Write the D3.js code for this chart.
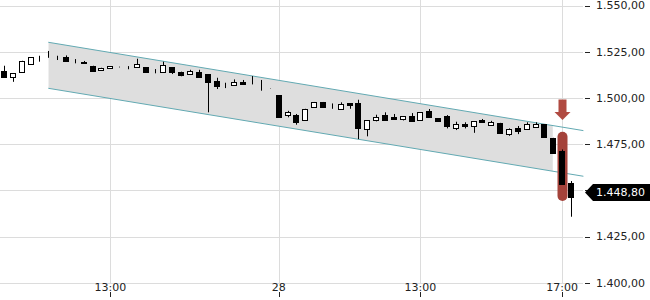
<!DOCTYPE html>
<html><head><meta charset="utf-8">
<script src="https://cdn.jsdelivr.net/npm/d3@7"></script>
<style>html,body{margin:0;padding:0;background:#fff}svg{display:block}</style>
</head><body><svg id="c" width="650" height="300"></svg>
<script>
const times = ["27 10:00","27 10:15","27 10:30","27 10:45","27 11:00","27 11:15","27 11:30","27 11:45","27 12:00","27 12:15","27 12:30","27 12:45","27 13:00","27 13:15","27 13:30","27 13:45","27 14:00","27 14:15","27 14:30","27 14:45","27 15:00","27 15:15","27 15:30","27 15:45","27 16:00","27 16:15","27 16:30","27 16:45","27 17:00","27 17:15","27 17:30",
"28 09:00","28 09:15","28 09:30","28 09:45","28 10:00","28 10:15","28 10:30","28 10:45","28 11:00","28 11:15","28 11:30","28 11:45","28 12:00","28 12:15","28 12:30","28 12:45","28 13:00","28 13:15","28 13:30","28 13:45","28 14:00","28 14:15","28 14:30","28 14:45","28 15:00","28 15:15","28 15:30","28 15:45","28 16:00","28 16:15","28 16:30","28 16:45","28 17:00","28 17:15"];
const open  = [1514.5,1511.1,1513.8,1518.3,1521.4,1521.9,1521.9,1522.3,1520.1,1519.6,1517.4,1514.9,1516.0,1516.7,1516.7,1516.9,1516.5,1514.7,1513.8,1516.5,1514.2,1512.9,1514.2,1512.7,1509.1,1507.3,1506.8,1508.7,1507.5,1507.1,1505.2,
1501.3,1490.6,1490.6,1487.8,1495.0,1497.8,1495.8,1494.1,1497.2,1497.2,1483.3,1487.8,1490.9,1489.6,1488.5,1490.0,1487.8,1492.9,1488.9,1490.3,1483.5,1485.8,1484.8,1488.0,1485.3,1486.5,1480.3,1483.5,1483.0,1484.1,1485.8,1478.4,1471.4,1453.7];
const high  = [1517.4,1513.3,1520.1,1522.0,1522.8,1525.4,1522.8,1523.0,1521.0,1520.0,1517.4,1516.3,1517.2,1516.9,1517.2,1521.2,1516.5,1515.6,1519.6,1516.5,1514.2,1515.2,1515.2,1512.7,1510.9,1508.2,1510.0,1509.7,1511.8,1509.7,1505.3,
1501.5,1493.0,1491.3,1494.1,1497.8,1497.8,1497.0,1497.6,1497.2,1499.0,1487.8,1490.9,1492.2,1491.3,1490.0,1491.8,1492.3,1494.0,1488.9,1490.7,1487.1,1486.8,1487.5,1488.6,1487.6,1486.5,1483.5,1484.8,1486.8,1486.8,1485.8,1478.4,1472.1,1455.0];
const low   = [1511.1,1508.7,1513.8,1518.3,1519.6,1521.7,1520.5,1520.1,1518.7,1518.5,1514.2,1514.9,1516.0,1516.5,1515.5,1516.9,1513.8,1513.3,1513.8,1512.9,1511.7,1512.9,1511.1,1492.2,1504.8,1505.3,1506.8,1507.3,1507.3,1503.9,1505.1,
1489.4,1489.5,1485.5,1487.8,1495.0,1494.9,1494.1,1494.1,1494.1,1477.7,1479.2,1487.3,1488.2,1488.7,1487.8,1487.6,1487.8,1489.8,1487.6,1483.5,1482.6,1483.5,1481.1,1486.8,1485.3,1480.8,1479.5,1480.4,1483.0,1484.1,1479.0,1470.3,1453.2,1435.7];
const close = [1511.1,1513.3,1520.1,1522.0,1521.4,1521.9,1521.9,1520.1,1520.1,1518.7,1514.7,1516.3,1517.2,1516.7,1516.7,1518.3,1514.2,1514.7,1517.6,1514.2,1512.4,1514.4,1511.1,1508.7,1506.4,1507.3,1508.7,1507.3,1507.5,1507.1,1505.2,
1489.6,1492.2,1487.1,1494.1,1497.8,1494.9,1495.8,1496.8,1496.3,1483.7,1487.8,1489.5,1488.2,1488.7,1490.0,1487.6,1492.3,1489.8,1487.6,1484.8,1485.8,1484.8,1487.5,1486.8,1487.1,1480.8,1483.0,1482.0,1485.7,1485.8,1479.0,1470.3,1453.2,1446.5];

const xTickIdx = [12, 31, 47, 63];
const xTickLabels = ["13:00", "28", "13:00", "17:00"];
const yTicks = [1400, 1425, 1450, 1475, 1500, 1525, 1550];

const channelIdx = [5, 65.4];
const channelUpper = [1530.1, 1482.3];
const channelLower = [1505.2, 1457.6];
const channelFillEndIdx = 62;

const highlightIdx = 63;
const highlightRange = [1444.2, 1481.7];
const arrowRange = [1488.0, 1499.2];
const lastPrice = 1448.80;

const W = 650, H = 300;
const plotRight = 583, plotBottom = 283;
const svg = d3.select("#c");
const x = d3.scaleLinear().domain([0, times.length - 1]).range([4, 571]);
const y = d3.scaleLinear().domain([1400, 1550]).range([282.7, 5.5]);
const loc = d3.formatLocale({decimal: ",", thousands: ".", grouping: [3], currency: ["", ""]});
const fmt = loc.format(",.2f");
const FONT = "DejaVu Sans";
const px = v => Math.round(v) + 0.5;

// grid
const g = svg.append("g");
g.selectAll("line.h").data(yTicks).join("line")
  .attr("x1", 0).attr("x2", plotRight).attr("y1", d => px(y(d))).attr("y2", d => px(y(d)))
  .attr("stroke", "#dcdcdc").attr("stroke-width", 1);
g.selectAll("line.v").data(xTickIdx).join("line")
  .attr("x1", d => px(x(d))).attr("x2", d => px(x(d))).attr("y1", 0).attr("y2", plotBottom)
  .attr("stroke", "#dcdcdc").attr("stroke-width", 1);

// channel
svg.append("clipPath").attr("id", "fillclip").append("rect")
  .attr("x", x(channelIdx[0])).attr("y", 0)
  .attr("width", x(channelFillEndIdx) - x(channelIdx[0]) - 0.5).attr("height", H);
const poly = [[channelIdx[0], channelUpper[0]], [channelIdx[1], channelUpper[1]], [channelIdx[1], channelLower[1]], [channelIdx[0], channelLower[0]]];
svg.append("path").attr("clip-path", "url(#fillclip)")
  .attr("d", d3.line().x(d => x(d[0])).y(d => y(d[1]))(poly) + "Z")
  .attr("fill", "#dedede");
[channelUpper, channelLower].forEach(arr => {
  svg.append("line")
    .attr("x1", x(channelIdx[0])).attr("y1", y(arr[0]))
    .attr("x2", x(channelIdx[1])).attr("y2", y(arr[1]))
    .attr("stroke", "#62a9b2").attr("stroke-width", 1);
});

// highlight pill + arrow
const hx = Math.round(x(highlightIdx)) + 0.5;
const red = "#a4423a";
svg.append("rect").attr("x", hx - 5).attr("width", 10)
  .attr("y", y(highlightRange[1])).attr("height", y(highlightRange[0]) - y(highlightRange[1]))
  .attr("rx", 5).attr("ry", 5).attr("fill", red);
const aTop = y(arrowRange[1]), aTip = y(arrowRange[0]), aNeck = aTip - 8;
svg.append("path").attr("d",
  `M${hx-4},${aTop} L${hx+4},${aTop} L${hx+4},${aNeck} L${hx+8},${aNeck} L${hx},${aTip} L${hx-8},${aNeck} L${hx-4},${aNeck} Z`)
  .attr("fill", "#b04a41");

// candles
const data = times.map((t, i) => ({i, o: open[i], h: high[i], l: low[i], c: close[i]}));
const cg = svg.append("g");
cg.selectAll("line.w").data(data).join("line")
  .attr("x1", d => px(x(d.i))).attr("x2", d => px(x(d.i)))
  .attr("y1", d => y(d.h)).attr("y2", d => y(d.l))
  .attr("stroke", "#000").attr("stroke-width", 1);
cg.selectAll("rect.b").data(data).join("rect")
  .attr("x", d => Math.round(x(d.i)) - 2)
  .attr("width", 5)
  .attr("y", d => Math.round(y(Math.max(d.o, d.c))) + 0.5)
  .attr("height", d => Math.max(0, Math.round(y(Math.min(d.o, d.c))) - Math.round(y(Math.max(d.o, d.c)))))
  .attr("fill", d => d.c < d.o ? "#000" : "#fff")
  .attr("stroke", "#000").attr("stroke-width", 1)
  .attr("transform", "translate(-0.5,0)");

// y axis (the 1.450,00 label sits under the last-price tag, as in the reference)
const ya = svg.append("g");
ya.selectAll("line").data(yTicks).join("line")
  .attr("x1", 585).attr("x2", 590).attr("y1", d => px(y(d))).attr("y2", d => px(y(d)))
  .attr("stroke", "#222");
ya.selectAll("text").data(yTicks.filter(v => Math.abs(y(v) - y(lastPrice)) > 12)).join("text")
  .attr("x", 596).attr("y", d => y(d)).attr("dy", "0.35em")
  .attr("font-family", FONT).attr("font-size", 11).attr("fill", "#222")
  .text(d => fmt(d));

// x axis
const xa = svg.append("g");
xa.selectAll("line").data(xTickIdx).join("line")
  .attr("x1", d => px(x(d))).attr("x2", d => px(x(d))).attr("y1", 292).attr("y2", 297)
  .attr("stroke", "#222");
xa.selectAll("text").data(xTickIdx).join("text")
  .attr("x", d => x(d)).attr("y", 291)
  .attr("text-anchor", "middle")
  .attr("font-family", FONT).attr("font-size", 11).attr("fill", "#222")
  .text((d, i) => xTickLabels[i]);

// last price label
const ly = y(lastPrice);
svg.append("path").attr("d",
  `M585,${ly} L593,${ly-8.5} L${W},${ly-8.5} L${W},${ly+8.5} L593,${ly+8.5} Z`).attr("fill", "#000");
svg.append("text").attr("x", 596).attr("y", ly).attr("dy", "0.36em")
  .attr("font-family", FONT).attr("font-size", 11).attr("fill", "#fff")
  .text(fmt(lastPrice));
</script></body></html>
